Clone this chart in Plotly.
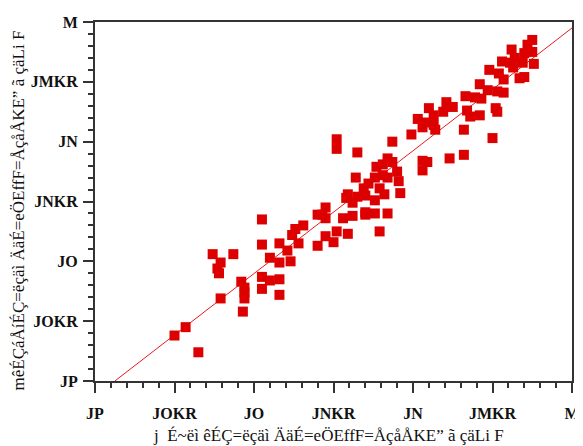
import plotly.graph_objects as go

# measured (x) and predicted (y) log values
measured = [-2.50, -2.43, -2.35, -2.26, -2.13, -2.21, -2.23, -2.22, -2.21, -2.08,
            -2.06, -2.06, -2.06, -2.07, -1.95, -1.95, -1.95, -1.95, -1.90, -1.84,
            -1.84, -1.90, -1.84, -1.84, -1.77, -1.79, -1.76, -1.74, -1.69, -1.72,
            -1.60, -1.60, -1.48, -1.48, -1.35, -1.13, -1.16, -1.13, -1.23, -1.19,
            -1.10, -1.19, -1.24, -1.16, -1.09, -1.36, -1.28, -1.31, -1.21, -1.08,
            -1.41, -1.18, -1.42, -1.35, -1.30, -1.24, -1.38, -1.55, -1.57, -1.55,
            -1.44, -1.38, -1.30, -1.30, -1.24, -1.16, -1.55, -1.48, -1.41, -1.50,
            -1.21, -0.94, -0.91, -0.94, -0.77, -1.01, -0.97, -0.90, -0.87, -0.94,
            -0.86, -0.79, -0.75, -0.81, -0.92, -0.87, -0.68, -0.50, -0.68, -0.67,
            -0.61, -0.57, -0.66, -0.64, -0.58, -0.48, -0.47, -0.58, -0.53, -0.47,
            -0.43, -0.43, -0.52, -0.46, -0.37, -0.33, -0.30, -0.44, -0.39, -0.31,
            -0.24, -0.36, -0.38, -0.30, -0.25, -0.28, -0.25]
predicted = [-2.62, -2.55, -2.76, -1.94, -1.94, -2.01, -2.06, -2.10, -2.31, -2.17,
             -2.22, -2.26, -2.31, -2.42, -1.65, -1.86, -2.13, -2.23, -1.97, -1.85,
             -2.01, -2.16, -2.15, -2.28, -2.00, -1.91, -1.78, -1.73, -1.70, -1.85,
             -1.87, -1.61, -0.98, -1.06, -1.09, -1.00, -1.14, -1.17, -1.21, -1.19,
             -1.25, -1.28, -1.30, -1.30, -1.33, -1.30, -1.35, -1.39, -1.39, -1.43,
             -1.44, -1.44, -1.47, -1.46, -1.45, -1.49, -1.51, -1.55, -1.61, -1.64,
             -1.64, -1.62, -1.59, -1.61, -1.60, -1.60, -1.79, -1.75, -1.77, -1.84,
             -1.75, -1.16, -1.17, -1.24, -1.14, -0.94, -0.81, -0.72, -0.78, -0.88,
             -0.90, -0.67, -0.71, -0.75, -0.84, -0.86, -0.90, -0.97, -1.11, -0.62,
             -0.63, -0.64, -0.74, -0.79, -0.78, -0.72, -0.75, -0.52, -0.57, -0.58,
             -0.59, -0.48, -0.40, -0.43, -0.38, -0.47, -0.46, -0.33, -0.34, -0.34,
             -0.35, -0.30, -0.23, -0.26, -0.25, -0.19, -0.15]

fit_slope = 1.026
fit_intercept = -0.05
fit_x_range = [-2.875, 0.0]

tick_vals = [-3, -2.5, -2, -1.5, -1, -0.5, 0]
tick_text = ["JP", "JOKR", "JO", "JNKR", "JN", "JMKR", "M"]

x_title = "j  É~ëì êÉÇ=ëçäì ÄäÉ=eÖEffF=ÅçåÅKE” ã çäLi F"
y_title = "mêÉÇáÅíÉÇ=ëçäì ÄäÉ=eÖEffF=ÅçåÅKE” ã çäLi F"

fit_y = [fit_slope * v + fit_intercept for v in fit_x_range]

FONT = "Liberation Serif, Times New Roman, serif"

fig = go.Figure()
fig.add_trace(go.Scatter(x=fit_x_range, y=fit_y, mode="lines",
                         line=dict(color="#e8191c", width=1), hoverinfo="skip",
                         showlegend=False))
fig.add_trace(go.Scatter(x=measured, y=predicted, mode="markers",
                         marker=dict(symbol="square", size=10, color="#dd0000",
                                     line=dict(width=0)),
                         showlegend=False))

axis_common = dict(
    range=[-3, 0], tickvals=tick_vals, ticktext=tick_text, automargin=False,
    showgrid=False, zeroline=False, showline=True, linewidth=2, linecolor="#333333",
    mirror=True, ticks="outside", ticklen=10, tickwidth=1.5, tickcolor="#333333",
    tickfont=dict(family=FONT, size=16, color="#111111", weight="bold"),
    minor=dict(ticks="outside", ticklen=5, tickwidth=1.5, tickcolor="#333333",
               dtick=0.1, tick0=0, showgrid=False),
)

fig.update_xaxes(**axis_common, ticklabelstandoff=7)
fig.update_yaxes(**axis_common, ticklabelstandoff=2)

# the page body adds an 8px margin, so the figure is sized to fill the window
fig.update_layout(
    width=575, height=438,
    margin=dict(l=87, r=11, t=14, b=65),
    plot_bgcolor="white", paper_bgcolor="white",
    annotations=[
        dict(text=x_title, xref="paper", yref="paper", x=0.49, y=0,
             xanchor="center", yanchor="top", yshift=-43, showarrow=False,
             font=dict(family=FONT, size=17, color="#111111")),
        dict(text=y_title, xref="paper", yref="paper", x=0, y=0.475,
             xanchor="center", yanchor="middle", xshift=-77, showarrow=False,
             textangle=-90, font=dict(family=FONT, size=17, color="#111111")),
    ],
)

fig.write_html("out.html")
